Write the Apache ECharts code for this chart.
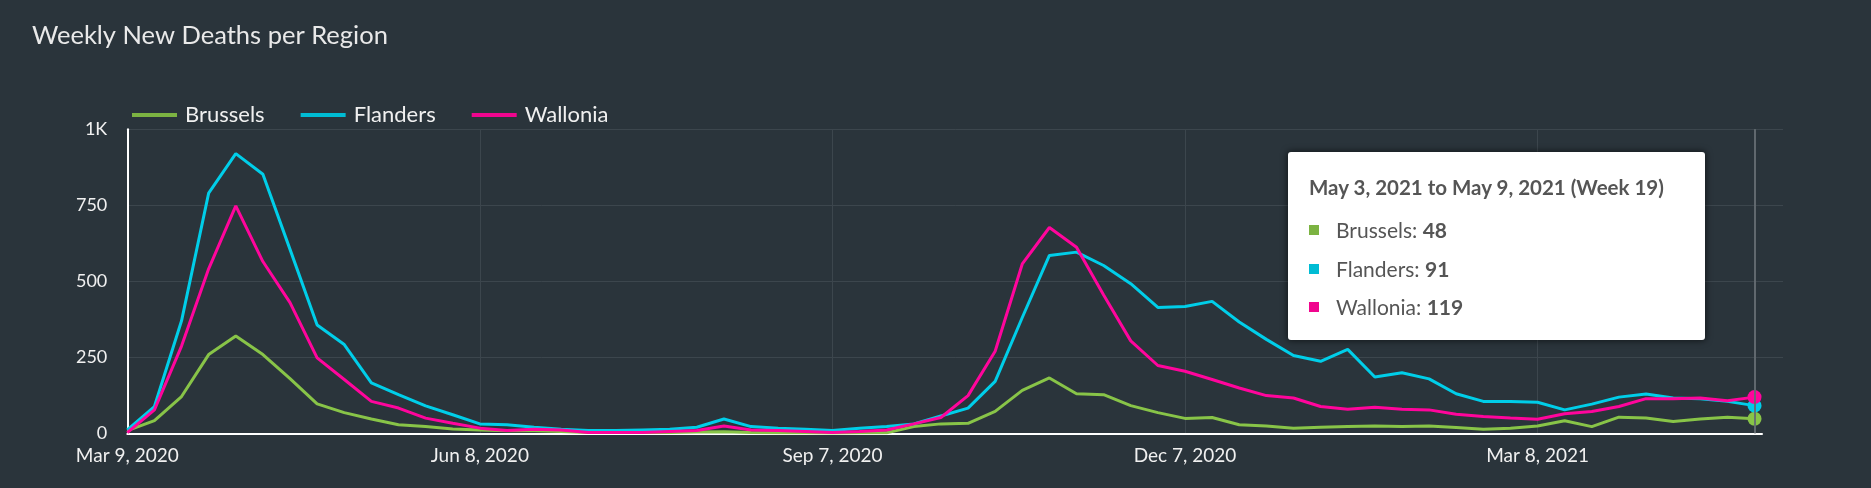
<!DOCTYPE html>
<html>
<head>
<meta charset="utf-8">
<script src="https://cdn.jsdelivr.net/npm/echarts@6/dist/echarts.min.js"></script>
<style>
  html, body { margin: 0; padding: 0; background: #2a343b; }
  #chart { width: 1871px; height: 488px; }
</style>
</head>
<body>
<div id="chart"></div>
<script>
// ---- Data (weekly, starting Monday Mar 9, 2020) ----
const startDate = Date.UTC(2020, 2, 9);
const seriesNames = ['Brussels', 'Flanders', 'Wallonia'];
const brussels = [9, 42, 121, 259, 320, 259, 180, 97, 68, 47, 28, 22, 14, 11, 8, 8, 6, 3, 3, 3,
  3, 4, 5, 3, 2, 2, 1, 2, 2, 22, 31, 33, 72, 141, 182, 130, 127, 91, 68, 49,
  52, 28, 24, 17, 20, 22, 24, 22, 24, 19, 13, 17, 24, 41, 22, 53, 50, 39, 47, 53, 48];
const flanders = [11, 88, 370, 790, 920, 852, 605, 356, 292, 166, 127, 90, 61, 31, 28, 20, 13, 9, 9, 11,
  13, 20, 47, 22, 17, 13, 9, 17, 22, 31, 57, 83, 171, 381, 585, 596, 552, 492, 414, 417,
  434, 366, 309, 256, 237, 276, 185, 199, 179, 130, 105, 105, 102, 77, 96, 119, 129, 116, 114, 105, 91];
const wallonia = [2, 77, 287, 541, 748, 565, 430, 248, 177, 105, 83, 50, 33, 17, 9, 13, 11, 3, 3, 3,
  6, 9, 24, 11, 9, 6, 3, 6, 11, 31, 52, 124, 270, 557, 677, 612, 455, 304, 223, 204,
  177, 149, 124, 116, 88, 79, 86, 79, 77, 63, 55, 50, 46, 64, 72, 88, 114, 114, 116, 107, 119];
const yTicks = [0, 250, 500, 750, 1000];
const colors = ['#7cb342', '#00bcd4', '#f0058e'];

const MONTHS = ['Jan','Feb','Mar','Apr','May','Jun','Jul','Aug','Sep','Oct','Nov','Dec'];
function weekDate(i) { return new Date(startDate + i * 7 * 86400000); }
function fmtDate(d) { return MONTHS[d.getUTCMonth()] + ' ' + d.getUTCDate() + ', ' + d.getUTCFullYear(); }
function weekNo(d) {
  const jan1 = new Date(Date.UTC(d.getUTCFullYear(), 0, 1));
  const doy = Math.round((d - jan1) / 86400000) + 1;
  return Math.ceil((doy + jan1.getUTCDay()) / 7);
}

const allSeries = [brussels, flanders, wallonia];
const lastIdx = brussels.length - 1;

const chart = echarts.init(document.getElementById('chart'), null, { renderer: 'canvas' });
const font = 'Lato, "Noto Sans", sans-serif';

const option = {
  backgroundColor: '#2a343b',
  animation: false,
  textStyle: { fontFamily: font },
  title: {
    text: 'Weekly New Deaths per Region',
    left: 27, top: 18,
    textStyle: { color: '#e9e9e9', fontSize: 25.5, fontWeight: 'normal', fontFamily: font }
  },
  legend: {
    data: seriesNames.map(n => ({ name: n, icon: 'rect' })),
    left: 127, top: 99,
    itemWidth: 45, itemHeight: 4, itemGap: 36,
    textStyle: { color: '#f0f0f0', fontSize: 22, fontFamily: font, padding: [0, 0, 0, 3] }
  },
  grid: [
    { left: 127.3, right: 88, top: 129.3, bottom: 54.7 },
    { left: 127.3, right: 109, top: 129.3, bottom: 54.7 }
  ],
  xAxis: [
    {
      type: 'value', gridIndex: 0, min: 0, max: 61.05, interval: 13,
      axisLine: { show: false },
      axisTick: { show: false },
      splitLine: { show: true, showMinLine: false, showMaxLine: false, lineStyle: { color: '#3c464d', width: 1 } },
      axisLabel: {
        color: '#f0f0f0', fontSize: 19, fontFamily: font, margin: 13, showMaxLabel: false,
        formatter: v => (v % 13 === 0 && v <= lastIdx) ? fmtDate(weekDate(v)) : ''
      }
    },
    {
      type: 'value', gridIndex: 1, min: 0, max: 1,
      axisLine: { show: true, onZero: false, lineStyle: { color: '#ffffff', width: 2 } },
      axisTick: { show: false }, axisLabel: { show: false }, splitLine: { show: false }
    }
  ],
  yAxis: [
    {
      type: 'value', gridIndex: 0, min: yTicks[0], max: yTicks[yTicks.length - 1], interval: yTicks[1] - yTicks[0],
      axisLine: { show: true, lineStyle: { color: '#ffffff', width: 2 } },
      axisTick: { show: false },
      splitLine: { show: true, showMinLine: false, lineStyle: { color: '#3c464d', width: 1 } },
      axisLabel: {
        color: '#f0f0f0', fontSize: 18, fontFamily: font, margin: 20,
        formatter: v => v >= 1000 ? (v / 1000) + 'K' : String(v)
      }
    },
    { type: 'value', gridIndex: 1, show: false }
  ],
  tooltip: {
    trigger: 'axis',
    triggerOn: 'none',
    alwaysShowContent: true,
    position: [1288, 152],
    backgroundColor: '#ffffff',
    borderWidth: 0,
    padding: 0,
    extraCssText: 'width:417px;height:188px;box-sizing:border-box;border-radius:3px;box-shadow:0 0 6px 1px rgba(0,0,0,0.55);',
    axisPointer: { type: 'line', lineStyle: { color: '#646d72', width: 1.5, type: 'solid' } },
    formatter: function (params) {
      const idx = params[0].dataIndex;
      const d0 = weekDate(idx);
      const d1 = new Date(d0.getTime() + 6 * 86400000);
      const head = fmtDate(d0) + ' to ' + fmtDate(d1) + ' (Week ' + weekNo(d0) + ')';
      let html = '<div style="position:relative;width:417px;height:188px;font-family:Lato,sans-serif;color:#555;">';
      html += '<div style="position:absolute;left:21px;top:23px;line-height:24px;font-size:20.5px;font-weight:bold;white-space:nowrap;">' + head + '</div>';
      const tops = [66, 105, 143];
      seriesNames.forEach((n, k) => {
        const v = allSeries[k][idx];
        html += '<div style="position:absolute;left:21px;top:' + (tops[k] + 7) + 'px;width:10px;height:10px;background:' + colors[k] + ';"></div>';
        html += '<div style="position:absolute;left:48px;top:' + tops[k] + 'px;line-height:24px;font-size:21px;white-space:nowrap;">' + n + ': <b>' + v + '</b></div>';
      });
      html += '</div>';
      return html;
    }
  },
  series: seriesNames.map((n, k) => ({
    name: n,
    type: 'line',
    xAxisIndex: 0, yAxisIndex: 0,
    data: allSeries[k].map((v, i) => [i, v]),
    showSymbol: true,
    symbol: 'circle',
    symbolSize: (val, p) => p.dataIndex === lastIdx ? 14 : 0,
    color: colors[k],
    lineStyle: { width: 3, color: colors[k] },
    itemStyle: { color: colors[k] },
    emphasis: { scale: false, focus: 'none' }
  }))
};

chart.setOption(option);
chart.dispatchAction({ type: 'showTip', seriesIndex: 0, dataIndex: lastIdx });
</script>
</body>
</html>
